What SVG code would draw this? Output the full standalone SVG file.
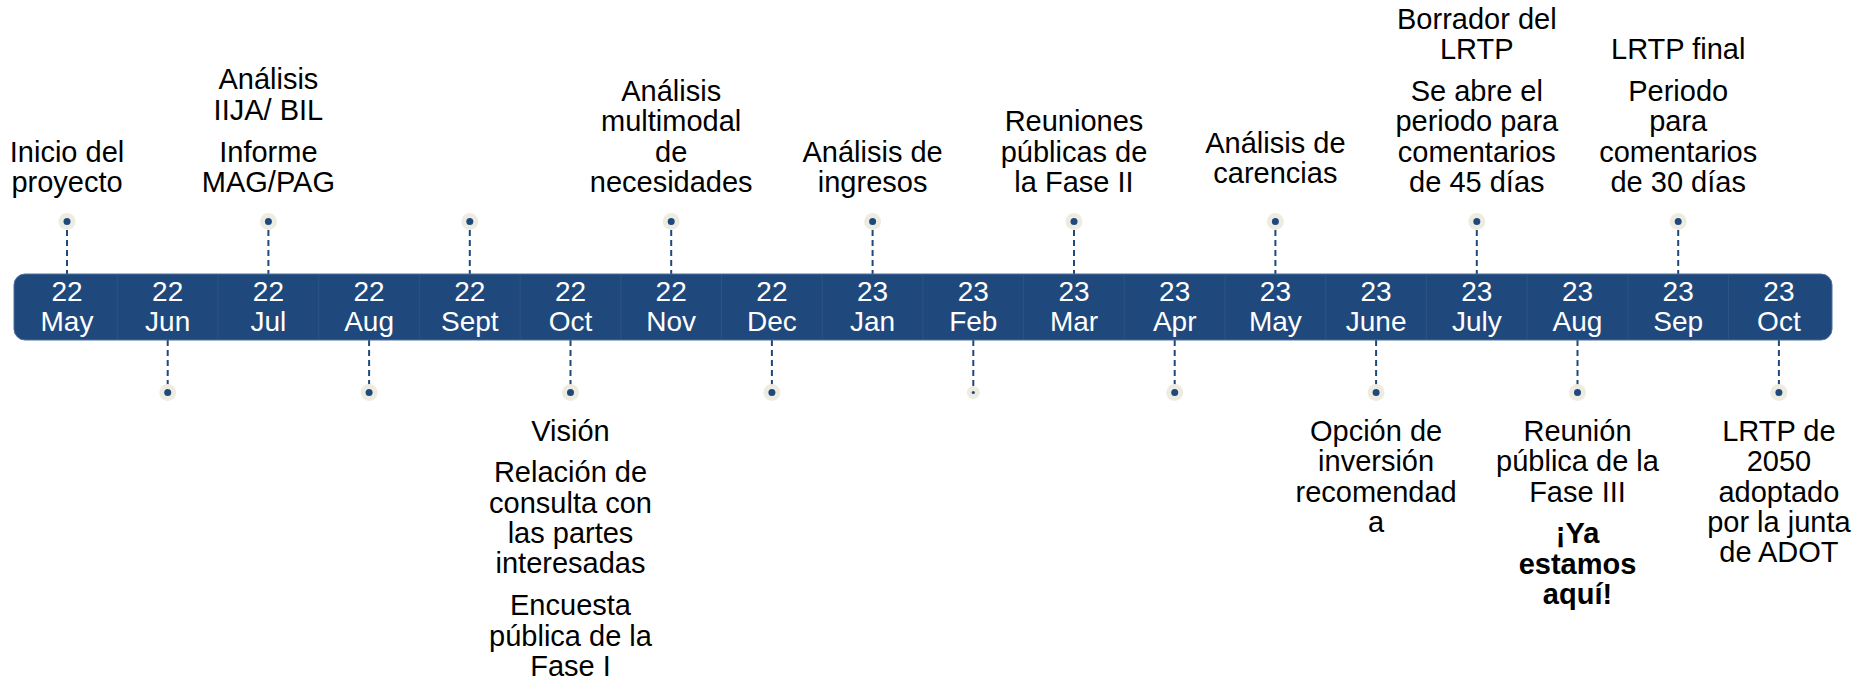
<svg xmlns="http://www.w3.org/2000/svg" width="1853" height="680" viewBox="0 0 1853 680">
<style>
.bar{fill:#1F497D;stroke:#4F719C;stroke-width:1}
.div{stroke:#2D5384;stroke-width:1}
.mt{font-family:"Liberation Sans",Arial,sans-serif;font-size:28px;fill:#FFFFFF;text-anchor:middle}
.lb{font-family:"Liberation Sans",Arial,sans-serif;font-size:29px;fill:#000000;text-anchor:middle}
.bd{font-weight:bold}
.halo{fill:#EEECE1}
.pt{fill:#1F497D}
.dash{stroke:#1F497D;stroke-width:2;stroke-dasharray:6 4;fill:none}
</style>
<rect width="1853" height="680" fill="#FFFFFF"/>

<g id="connectors">
<line class="dash" x1="67" y1="230" x2="67" y2="274"/>
<line class="dash" x1="268.4" y1="230" x2="268.4" y2="274"/>
<line class="dash" x1="469.8" y1="230" x2="469.8" y2="274"/>
<line class="dash" x1="671.2" y1="230" x2="671.2" y2="274"/>
<line class="dash" x1="872.6" y1="230" x2="872.6" y2="274"/>
<line class="dash" x1="1074" y1="230" x2="1074" y2="274"/>
<line class="dash" x1="1275.4" y1="230" x2="1275.4" y2="274"/>
<line class="dash" x1="1476.8" y1="230" x2="1476.8" y2="274"/>
<line class="dash" x1="1678.2" y1="230" x2="1678.2" y2="274"/>
<line class="dash" x1="167.7" y1="340" x2="167.7" y2="385"/>
<line class="dash" x1="369.1" y1="340" x2="369.1" y2="385"/>
<line class="dash" x1="570.5" y1="340" x2="570.5" y2="385"/>
<line class="dash" x1="771.9" y1="340" x2="771.9" y2="385"/>
<line class="dash" x1="973.3" y1="340" x2="973.3" y2="387"/>
<line class="dash" x1="1174.7" y1="340" x2="1174.7" y2="385"/>
<line class="dash" x1="1376.1" y1="340" x2="1376.1" y2="385"/>
<line class="dash" x1="1577.5" y1="340" x2="1577.5" y2="385"/>
<line class="dash" x1="1778.9" y1="340" x2="1778.9" y2="385"/>
</g>

<g id="timeline-bar">
<rect class="bar" x="14" y="274" width="1818" height="66" rx="11" ry="11"/>
<line class="div" x1="117.3" y1="275" x2="117.3" y2="339"/>
<line class="div" x1="218" y1="275" x2="218" y2="339"/>
<line class="div" x1="318.7" y1="275" x2="318.7" y2="339"/>
<line class="div" x1="419.4" y1="275" x2="419.4" y2="339"/>
<line class="div" x1="520.1" y1="275" x2="520.1" y2="339"/>
<line class="div" x1="620.8" y1="275" x2="620.8" y2="339"/>
<line class="div" x1="721.5" y1="275" x2="721.5" y2="339"/>
<line class="div" x1="822.2" y1="275" x2="822.2" y2="339"/>
<line class="div" x1="922.9" y1="275" x2="922.9" y2="339"/>
<line class="div" x1="1023.6" y1="275" x2="1023.6" y2="339"/>
<line class="div" x1="1124.3" y1="275" x2="1124.3" y2="339"/>
<line class="div" x1="1225" y1="275" x2="1225" y2="339"/>
<line class="div" x1="1325.7" y1="275" x2="1325.7" y2="339"/>
<line class="div" x1="1426.4" y1="275" x2="1426.4" y2="339"/>
<line class="div" x1="1527.1" y1="275" x2="1527.1" y2="339"/>
<line class="div" x1="1627.8" y1="275" x2="1627.8" y2="339"/>
<line class="div" x1="1728.5" y1="275" x2="1728.5" y2="339"/>
</g>

<g id="m-22-may"><text class="mt" x="67" y="301">22</text><text class="mt" x="67" y="331">May</text></g>
<g id="m-22-jun"><text class="mt" x="167.7" y="301">22</text><text class="mt" x="167.7" y="331">Jun</text></g>
<g id="m-22-jul"><text class="mt" x="268.4" y="301">22</text><text class="mt" x="268.4" y="331">Jul</text></g>
<g id="m-22-aug"><text class="mt" x="369.1" y="301">22</text><text class="mt" x="369.1" y="331">Aug</text></g>
<g id="m-22-sept"><text class="mt" x="469.8" y="301">22</text><text class="mt" x="469.8" y="331">Sept</text></g>
<g id="m-22-oct"><text class="mt" x="570.5" y="301">22</text><text class="mt" x="570.5" y="331">Oct</text></g>
<g id="m-22-nov"><text class="mt" x="671.2" y="301">22</text><text class="mt" x="671.2" y="331">Nov</text></g>
<g id="m-22-dec"><text class="mt" x="771.9" y="301">22</text><text class="mt" x="771.9" y="331">Dec</text></g>
<g id="m-23-jan"><text class="mt" x="872.6" y="301">23</text><text class="mt" x="872.6" y="331">Jan</text></g>
<g id="m-23-feb"><text class="mt" x="973.3" y="301">23</text><text class="mt" x="973.3" y="331">Feb</text></g>
<g id="m-23-mar"><text class="mt" x="1074" y="301">23</text><text class="mt" x="1074" y="331">Mar</text></g>
<g id="m-23-apr"><text class="mt" x="1174.7" y="301">23</text><text class="mt" x="1174.7" y="331">Apr</text></g>
<g id="m-23-may"><text class="mt" x="1275.4" y="301">23</text><text class="mt" x="1275.4" y="331">May</text></g>
<g id="m-23-june"><text class="mt" x="1376.1" y="301">23</text><text class="mt" x="1376.1" y="331">June</text></g>
<g id="m-23-july"><text class="mt" x="1476.8" y="301">23</text><text class="mt" x="1476.8" y="331">July</text></g>
<g id="m-23-aug"><text class="mt" x="1577.5" y="301">23</text><text class="mt" x="1577.5" y="331">Aug</text></g>
<g id="m-23-sep"><text class="mt" x="1678.2" y="301">23</text><text class="mt" x="1678.2" y="331">Sep</text></g>
<g id="m-23-oct"><text class="mt" x="1778.9" y="301">23</text><text class="mt" x="1778.9" y="331">Oct</text></g>

<g id="ms-22-may">
<circle class="halo" cx="67" cy="221.5" r="8.5"/><circle class="pt" cx="67" cy="221.5" r="3.5"/>
<text class="lb" x="67" y="161.7">Inicio del</text><text class="lb" x="67" y="192">proyecto</text>
</g>
<g id="ms-22-jul">
<circle class="halo" cx="268.4" cy="221.5" r="8.5"/><circle class="pt" cx="268.4" cy="221.5" r="3.5"/>
<text class="lb" x="268.4" y="89.2">Análisis</text><text class="lb" x="268.4" y="119.5">IIJA/ BIL</text>
<text class="lb" x="268.4" y="161.7">Informe</text><text class="lb" x="268.4" y="192">MAG/PAG</text>
</g>
<g id="ms-22-sept">
<circle class="halo" cx="469.8" cy="221.5" r="8.5"/><circle class="pt" cx="469.8" cy="221.5" r="3.5"/>
</g>
<g id="ms-22-nov">
<circle class="halo" cx="671.2" cy="221.5" r="8.5"/><circle class="pt" cx="671.2" cy="221.5" r="3.5"/>
<text class="lb" x="671.2" y="101.1">Análisis</text><text class="lb" x="671.2" y="131.4">multimodal</text>
<text class="lb" x="671.2" y="161.7">de</text><text class="lb" x="671.2" y="192">necesidades</text>
</g>
<g id="ms-23-jan">
<circle class="halo" cx="872.6" cy="221.5" r="8.5"/><circle class="pt" cx="872.6" cy="221.5" r="3.5"/>
<text class="lb" x="872.6" y="161.7">Análisis de</text><text class="lb" x="872.6" y="192">ingresos</text>
</g>
<g id="ms-23-mar">
<circle class="halo" cx="1074" cy="221.5" r="8.5"/><circle class="pt" cx="1074" cy="221.5" r="3.5"/>
<text class="lb" x="1074" y="131.4">Reuniones</text><text class="lb" x="1074" y="161.7">públicas de</text><text class="lb" x="1074" y="192">la Fase II</text>
</g>
<g id="ms-23-may">
<circle class="halo" cx="1275.4" cy="221.5" r="8.5"/><circle class="pt" cx="1275.4" cy="221.5" r="3.5"/>
<text class="lb" x="1275.4" y="153.3">Análisis de</text><text class="lb" x="1275.4" y="182.8">carencias</text>
</g>
<g id="ms-23-jul">
<circle class="halo" cx="1476.8" cy="221.5" r="8.5"/><circle class="pt" cx="1476.8" cy="221.5" r="3.5"/>
<text class="lb" x="1476.8" y="29">Borrador del</text><text class="lb" x="1476.8" y="59.3">LRTP</text>
<text class="lb" x="1476.8" y="101.1">Se abre el</text><text class="lb" x="1476.8" y="131.4">periodo para</text>
<text class="lb" x="1476.8" y="161.7">comentarios</text><text class="lb" x="1476.8" y="192">de 45 días</text>
</g>
<g id="ms-23-sep">
<circle class="halo" cx="1678.2" cy="221.5" r="8.5"/><circle class="pt" cx="1678.2" cy="221.5" r="3.5"/>
<text class="lb" x="1678.2" y="59.3">LRTP final</text>
<text class="lb" x="1678.2" y="101.1">Periodo</text><text class="lb" x="1678.2" y="131.4">para</text>
<text class="lb" x="1678.2" y="161.7">comentarios</text><text class="lb" x="1678.2" y="192">de 30 días</text>
</g>

<g id="ms-22-jun"><circle class="halo" cx="167.7" cy="392.5" r="8.5"/><circle class="pt" cx="167.7" cy="392.5" r="3.5"/></g>
<g id="ms-22-aug"><circle class="halo" cx="369.1" cy="392.5" r="8.5"/><circle class="pt" cx="369.1" cy="392.5" r="3.5"/></g>
<g id="ms-22-oct">
<circle class="halo" cx="570.5" cy="392.5" r="8.5"/><circle class="pt" cx="570.5" cy="392.5" r="3.5"/>
<text class="lb" x="570.5" y="441">Visión</text>
<text class="lb" x="570.5" y="482">Relación de</text><text class="lb" x="570.5" y="512.5">consulta con</text>
<text class="lb" x="570.5" y="543">las partes</text><text class="lb" x="570.5" y="573.3">interesadas</text>
<text class="lb" x="570.5" y="615">Encuesta</text><text class="lb" x="570.5" y="645.5">pública de la</text><text class="lb" x="570.5" y="676">Fase I</text>
</g>
<g id="ms-22-dec"><circle class="halo" cx="771.9" cy="392.5" r="8.5"/><circle class="pt" cx="771.9" cy="392.5" r="3.5"/></g>
<g id="ms-23-feb"><circle class="halo" cx="973.3" cy="392.5" r="6.5"/><circle class="pt" cx="973.3" cy="392.5" r="1.6"/></g>
<g id="ms-23-apr"><circle class="halo" cx="1174.7" cy="392.5" r="8.5"/><circle class="pt" cx="1174.7" cy="392.5" r="3.5"/></g>
<g id="ms-23-june">
<circle class="halo" cx="1376.1" cy="392.5" r="8.5"/><circle class="pt" cx="1376.1" cy="392.5" r="3.5"/>
<text class="lb" x="1376.1" y="441">Opción de</text><text class="lb" x="1376.1" y="471.3">inversión</text>
<text class="lb" x="1376.1" y="501.6">recomendad</text><text class="lb" x="1376.1" y="531.9">a</text>
</g>
<g id="ms-23-aug">
<circle class="halo" cx="1577.5" cy="392.5" r="8.5"/><circle class="pt" cx="1577.5" cy="392.5" r="3.5"/>
<text class="lb" x="1577.5" y="441">Reunión</text><text class="lb" x="1577.5" y="471.3">pública de la</text><text class="lb" x="1577.5" y="501.6">Fase III</text>
<text class="lb bd" x="1577.5" y="543">¡Ya</text><text class="lb bd" x="1577.5" y="573.5">estamos</text><text class="lb bd" x="1577.5" y="603.5">aquí!</text>
</g>
<g id="ms-23-oct">
<circle class="halo" cx="1778.9" cy="392.5" r="8.5"/><circle class="pt" cx="1778.9" cy="392.5" r="3.5"/>
<text class="lb" x="1778.9" y="441">LRTP de</text><text class="lb" x="1778.9" y="471.3">2050</text>
<text class="lb" x="1778.9" y="501.6">adoptado</text><text class="lb" x="1778.9" y="531.9">por la junta</text><text class="lb" x="1778.9" y="562.2">de ADOT</text>
</g>
</svg>
